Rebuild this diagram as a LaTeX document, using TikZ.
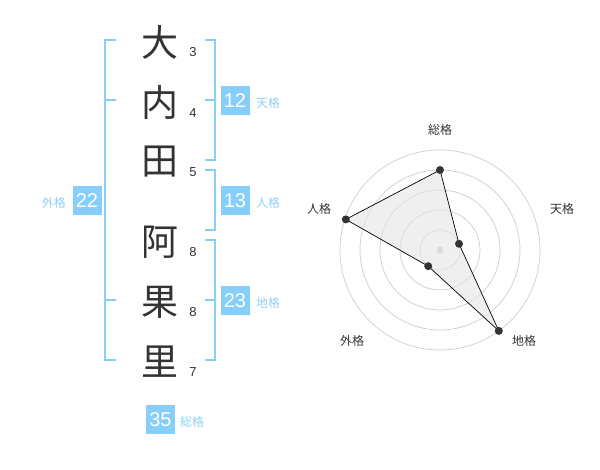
\documentclass[tikz,border=0pt]{standalone}
\usepackage{fontspec}
\setmainfont{Liberation Sans}
\newfontfamily\jp{Noto Sans CJK JP}
\definecolor{kblue}{HTML}{87CEFA}
\definecolor{klab}{HTML}{8FD0F5}
\definecolor{ink}{HTML}{333333}
\definecolor{ring}{HTML}{CCCCCC}
\begin{document}
\begin{tikzpicture}[x=1pt,y=-1pt,
  kanji/.style={font=\jp\fontsize{37}{37}\selectfont, text=ink, inner sep=0pt},
  stroke/.style={font=\fontsize{13}{13}\selectfont, text=ink, inner sep=0pt},
  numbox/.style={fill=kblue, text=white, minimum width=29pt, minimum height=29pt, inner sep=0pt, font=\fontsize{20}{20}\selectfont},
  kaku/.style={font=\jp\fontsize{12}{12}\selectfont, text=klab, inner sep=0pt},
  brk/.style={draw=kblue, line width=2pt},
  rlab/.style={font=\jp\fontsize{12}{12}\selectfont, text=ink, inner sep=0pt},
  dot/.style={circle, fill=ink, inner sep=0pt, minimum size=8pt}]
\useasboundingbox (0,0) rectangle (600,470);
% name characters
\node[kanji] (c1) at (160,42) {大};
\node[kanji] (c2) at (160,102) {内};
\node[kanji] (c3) at (160,162) {田};
\node[kanji] (c4) at (160,242) {阿};
\node[kanji] (c5) at (160,302) {果};
\node[kanji] (c6) at (160,362) {里};
% stroke counts
\node[stroke] (s1) at (193,52) {3};
\node[stroke] (s2) at (193,113) {4};
\node[stroke] (s3) at (193,172) {5};
\node[stroke] (s4) at (193,252) {8};
\node[stroke] (s5) at (193,312) {8};
\node[stroke] (s6) at (193,372) {7};
% left bracket (gaikaku)
\draw[brk] (116,40) -- (105,40) -- (105,360) -- (116,360);
\draw[brk] (105,100) -- (116,100);
\draw[brk] (105,300) -- (116,300);
% right brackets
\draw[brk] (205,40) -- (215,40) -- (215,160) -- (205,160);
\draw[brk] (205,100) -- (215,100);
\draw[brk] (205,170) -- (215,170) -- (215,230) -- (205,230);
\draw[brk] (205,240) -- (215,240) -- (215,360) -- (205,360);
\draw[brk] (205,300) -- (215,300);
% boxes and labels
\node[numbox] (b12) at (235,100.5) {12};
\node[kaku, anchor=west] (l12) at (256,103) {天格};
\node[numbox] (b13) at (235,200.5) {13};
\node[kaku, anchor=west] (l13) at (256,203) {人格};
\node[numbox] (b23) at (235,300.5) {23};
\node[kaku, anchor=west] (l23) at (256,303) {地格};
\node[numbox] (b22) at (87,200.5) {22};
\node[kaku, anchor=east] (l22) at (66,203) {外格};
\node[numbox] (b35) at (160.5,419.5) {35};
\node[kaku, anchor=west] (l35) at (180,422) {総格};
% radar chart
\coordinate (ctr) at (440,250);
\foreach \r in {20,40,60,80,100} \draw[ring, line width=0.7pt] (ctr) circle[radius=\r];
\fill[ring] (ctr) circle[radius=3.5];
\coordinate (pso) at (440,170);
\coordinate (pten) at (459,243.8);
\coordinate (pchi) at (498.8,330.9);
\coordinate (pgai) at (428.2,266.2);
\coordinate (pjin) at (345.8,219.4);
\fill[black!10, opacity=0.6] (pso) -- (pten) -- (pchi) -- (pgai) -- (pjin) -- cycle;
\draw[black, line width=0.7pt] (pso) -- (pten) -- (pchi) -- (pgai) -- (pjin) -- cycle;
\foreach \p in {pso,pten,pchi,pgai,pjin} \node[dot] at (\p) {};
\node[rlab] (rso) at (440,130) {総格};
\node[rlab] (rten) at (562,209) {天格};
\node[rlab] (rchi) at (524,341) {地格};
\node[rlab] (rgai) at (352,341) {外格};
\node[rlab] (rjin) at (319,209) {人格};
\end{tikzpicture}
\end{document}
